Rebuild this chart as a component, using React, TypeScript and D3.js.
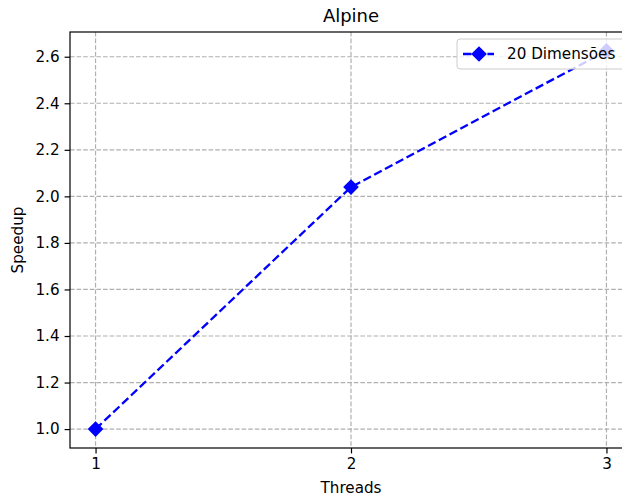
import React, { useEffect, useRef } from 'react';
import * as d3 from 'd3';

const threads = [1, 2, 3];
const speedup = [1.0, 2.04, 2.625];
const yTicks = [1.0, 1.2, 1.4, 1.6, 1.8, 2.0, 2.2, 2.4, 2.6];
const seriesName = '20 Dimensões';

export default function App() {
  const svgRef = useRef<SVGSVGElement>(null);

  useEffect(() => {
    const svg = d3.select(svgRef.current);
    svg.selectAll('*').remove();
    const W = 622, H = 497;
    const left = 70, right = 632, top = 32, bottom = 448;
    const font = 'DejaVu Sans, sans-serif';
    const fs = 15.2;

    const x = d3.scaleLinear().domain([0.9, 3.1]).range([left, right]);
    const yMin = d3.min(speedup)!, yMax = d3.max(speedup)!;
    const pad = (yMax - yMin) * 0.05;
    const y = d3.scaleLinear().domain([yMin - pad, yMax + pad]).range([bottom, top]);

    svg.append('rect').attr('width', W).attr('height', H).attr('fill', 'white');

    // grid
    const grid = svg.append('g').attr('stroke', '#b0b0b0').attr('stroke-width', 1.2)
      .attr('stroke-dasharray', '4.6,2');
    yTicks.forEach(t => grid.append('line').attr('x1', left).attr('x2', right)
      .attr('y1', y(t)).attr('y2', y(t)));
    threads.forEach(t => grid.append('line').attr('y1', top).attr('y2', bottom)
      .attr('x1', x(t)).attr('x2', x(t)));

    // axes
    const xAxis = svg.append('g').attr('transform', `translate(0,${bottom})`)
      .call(d3.axisBottom(x).tickValues(threads).tickFormat(d3.format('d')).tickSize(5.4).tickPadding(5));
    const yAxis = svg.append('g').attr('transform', `translate(${left},0)`)
      .call(d3.axisLeft(y).tickValues(yTicks).tickFormat(d3.format('.1f')).tickSize(5.4).tickPadding(5));
    [xAxis, yAxis].forEach(a => {
      a.select('.domain').remove();
      a.selectAll('line').attr('stroke', 'black').attr('stroke-width', 1.2);
      a.selectAll('text').attr('font-family', font).attr('font-size', fs).attr('fill', 'black');
    });
    svg.append('rect').attr('x', left).attr('y', top).attr('width', right - left)
      .attr('height', bottom - top).attr('fill', 'none').attr('stroke', 'black').attr('stroke-width', 1.2);

    // series
    const line = d3.line<number>().x((d, i) => x(threads[i])).y(d => y(d));
    svg.append('path').datum(speedup).attr('d', line).attr('fill', 'none')
      .attr('stroke', 'blue').attr('stroke-width', 2.3).attr('stroke-dasharray', '8.5,3.7');
    const diamond = d3.symbol().type(d3.symbolSquare).size(92);
    svg.selectAll('.pt').data(speedup).enter().append('path')
      .attr('d', diamond)
      .attr('transform', (d, i) => `translate(${x(threads[i])},${y(d)}) rotate(45)`)
      .attr('fill', 'blue').attr('stroke', 'blue').attr('stroke-width', 1.5);

    // legend
    const lg = svg.append('g');
    lg.append('rect').attr('x', 457).attr('y', 39).attr('width', 200).attr('height', 30)
      .attr('rx', 3).attr('fill', 'white').attr('fill-opacity', 0.8).attr('stroke', '#ccc');
    lg.append('line').attr('x1', 463).attr('x2', 494).attr('y1', 54).attr('y2', 54)
      .attr('stroke', 'blue').attr('stroke-width', 2.3).attr('stroke-dasharray', '8.5,3.7');
    lg.append('path').attr('d', diamond).attr('transform', 'translate(479,54) rotate(45)')
      .attr('fill', 'blue').attr('stroke', 'blue').attr('stroke-width', 1.5);
    lg.append('text').attr('x', 507).attr('y', 54).attr('dy', '0.35em').text(seriesName)
      .attr('font-family', font).attr('font-size', fs).attr('fill', 'black');

    // titles
    svg.append('text').attr('x', (left + right) / 2).attr('y', 22).attr('text-anchor', 'middle')
      .attr('font-family', font).attr('font-size', 18).attr('fill', 'black').text('Alpine');
    svg.append('text').attr('x', (left + right) / 2).attr('y', 493).attr('text-anchor', 'middle')
      .attr('font-family', font).attr('font-size', fs).attr('fill', 'black').text('Threads');
    svg.append('text').attr('transform', `translate(23,${(top + bottom) / 2}) rotate(-90)`)
      .attr('text-anchor', 'middle').attr('font-family', font).attr('font-size', fs)
      .attr('fill', 'black').text('Speedup');
  }, []);

  return <svg ref={svgRef} width={622} height={497} style={{ position: 'absolute', left: 0, top: 0 }} />;
}
